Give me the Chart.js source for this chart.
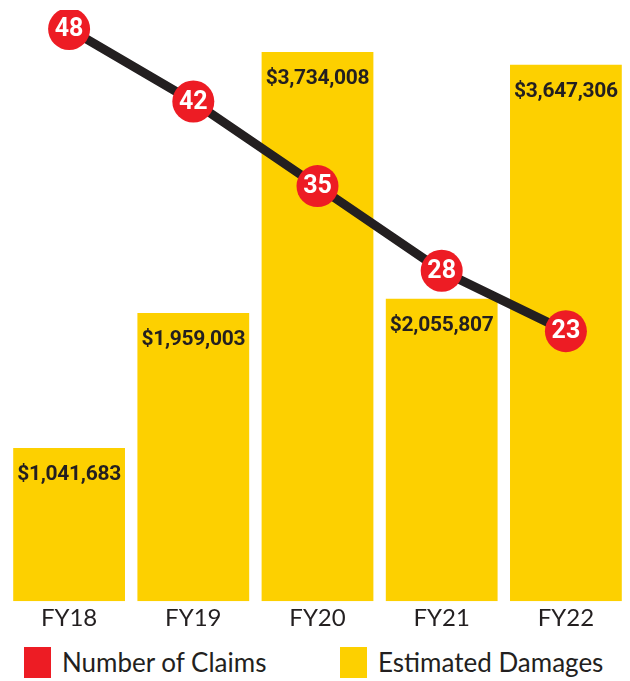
<!DOCTYPE html>
<html>
<head>
<meta charset="utf-8">
<script src="https://cdn.jsdelivr.net/npm/chart.js@4.4.1/dist/chart.umd.min.js"></script>
<style>
  html, body { margin: 0; padding: 0; background: #fff; }
  #wrap { position: relative; width: 630px; height: 681px; }
  #cizim { position: absolute; left: 0; top: 0; width: 630px; height: 640px; }
  .lejant { position: absolute; top: 646px; height: 32px; display: flex; align-items: center;
            font-family: Lato, sans-serif; font-size: 26px; color: #231F20; }
  .lejant span.kutu { display: inline-block; width: 27px; height: 31px; margin-right: 11px; }
</style>
</head>
<body>
<div id="wrap">
  <div id="cizim"><canvas id="grafik"></canvas></div>
  <div class="lejant" style="left:24px"><span class="kutu" style="background:#ED1C24"></span>Number of Claims</div>
  <div class="lejant" style="left:340px"><span class="kutu" style="background:#FDD000"></span>Estimated Damages</div>
</div>
<script>
// veriler
const yillar = ['FY18', 'FY19', 'FY20', 'FY21', 'FY22'];
const talepSayisi = [48, 42, 35, 28, 23];
const tahminiHasar = [1041683, 1959003, 3734008, 2055807, 3647306];

const KIRMIZI = '#ED1C24';
const SARI = '#FDD000';
const KOYU = '#231F20';

// çubuk etiketleri ve daire içindeki sayılar
const etiketEklentisi = {
    id: 'etiketler',
    afterDatasetsDraw(chart) {
        const ctx = chart.ctx;
        ctx.save();
        const barMeta = chart.getDatasetMeta(1);
        ctx.fillStyle = KOYU;
        ctx.font = 'bold 21px Roboto';
        ctx.letterSpacing = '-0.3px';
        ctx.textAlign = 'center';
        ctx.textBaseline = 'middle';
        barMeta.data.forEach((bar, i) => {
            const metin = '$' + tahminiHasar[i].toLocaleString('en-US');
            ctx.fillText(metin, bar.x, bar.y + 27);
        });
        const noktaMeta = chart.getDatasetMeta(0);
        ctx.fillStyle = '#fff';
        ctx.font = 'bold 25px Roboto';
        ctx.letterSpacing = '0px';
        noktaMeta.data.forEach((p, i) => {
            ctx.fillText(String(talepSayisi[i]), p.x, p.y + 1);
        });
        ctx.restore();
    }
};

const ctx = document.getElementById('grafik').getContext('2d');
new Chart(ctx, {
    type: 'bar',
    data: {
        labels: yillar,
        datasets: [
            {
                type: 'line',
                label: 'Number of Claims',
                data: talepSayisi,
                yAxisID: 'ySayi',
                borderColor: KOYU,
                borderWidth: 9,
                backgroundColor: KIRMIZI,
                pointBackgroundColor: KIRMIZI,
                pointBorderWidth: 0,
                pointRadius: 21,
                pointHoverRadius: 21,
                tension: 0
            },
            {
                type: 'bar',
                label: 'Estimated Damages',
                data: tahminiHasar,
                yAxisID: 'yHasar',
                backgroundColor: SARI,
                categoryPercentage: 1,
                barPercentage: 0.9
            }
        ]
    },
    options: {
        responsive: true,
        maintainAspectRatio: false,
        animation: false,
        layout: { autoPadding: false, padding: { left: 7, right: 2, top: 10, bottom: 4 } },
        scales: {
            x: {
                type: 'category',
                offset: true,
                grid: { display: false, drawTicks: false },
                border: { display: false },
                ticks: { color: KOYU, font: { family: 'Lato', size: 24 }, padding: 3 }
            },
            yHasar: {
                display: false,
                min: 0,
                max: 4020000
            },
            ySayi: {
                display: false,
                min: 0.66,
                max: 49.57
            }
        },
        plugins: {
            tooltip: { enabled: false },
            legend: { display: false }
        }
    },
    plugins: [etiketEklentisi]
});
</script>
</body>
</html>
